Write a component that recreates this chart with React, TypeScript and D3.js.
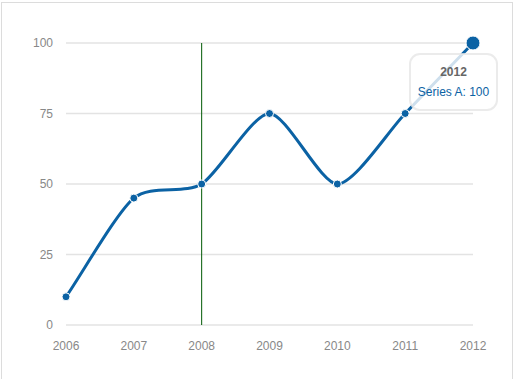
import React from "react";
import * as d3 from "d3";

const years = ["2006", "2007", "2008", "2009", "2010", "2011", "2012"];
const seriesA = [10, 45, 50, 75, 50, 75, 100];
const yTicks = [0, 25, 50, 75, 100];
const eventYears = ["2008"];
const hoverIndex = 6;
const seriesName = "Series A";

const W = 514;
const H = 379;
const left = 66;
const right = 473;
const top = 43;
const bottom = 325;
const lineColor = "#0b62a4";

export default function App() {
  const x = d3.scalePoint<string>().domain(years).range([left, right]);
  const y = d3.scaleLinear().domain([0, 100]).range([bottom, top]);

  const coords = years.map((yr, i) => ({ x: x(yr) as number, y: y(seriesA[i]) }));
  const n = coords.length;
  const grads = coords.map((c, i) => {
    if (i === 0) return (coords[1].y - c.y) / (coords[1].x - c.x);
    if (i === n - 1) return (c.y - coords[i - 1].y) / (c.x - coords[i - 1].x);
    return (coords[i + 1].y - coords[i - 1].y) / (coords[i + 1].x - coords[i - 1].x);
  });
  const p = d3.path();
  coords.forEach((c, i) => {
    if (i === 0) {
      p.moveTo(c.x, c.y);
      return;
    }
    const prev = coords[i - 1];
    const ix = (c.x - prev.x) / 4;
    const x1 = prev.x + ix;
    const y1 = Math.min(bottom, prev.y + ix * grads[i - 1]);
    const x2 = c.x - ix;
    const y2 = Math.min(bottom, c.y - ix * grads[i]);
    p.bezierCurveTo(x1, y1, x2, y2, c.x, c.y);
  });

  const hv = coords[hoverIndex];
  const tipW = 87;
  const tipH = 56;
  const tipX = hv.x - 63;
  const tipY = hv.y + 11;

  return (
    <div style={{ position: "fixed", left: 0, top: 0, width: W, height: H, background: "#fff" }}>
      <svg width={W} height={H} style={{ display: "block" }}>
        <rect x={1.5} y={2.5} width={511} height={H + 10} fill="#fff" stroke="#dcdcdc" strokeWidth={1} />
        {yTicks.map((t) => (
          <g key={t}>
            <line x1={left} x2={right} y1={y(t)} y2={y(t)} stroke="#e3e3e3" strokeWidth={1.5} />
            <text
              x={53}
              y={y(t)}
              dy="0.35em"
              textAnchor="end"
              fill="#888"
              fontFamily="Liberation Sans, Arial, sans-serif"
              fontSize={12}
            >
              {t}
            </text>
          </g>
        ))}
        {years.map((yr) => (
          <text
            key={yr}
            x={x(yr) as number}
            y={346}
            dy="0.35em"
            textAnchor="middle"
            fill="#888"
            fontFamily="Liberation Sans, Arial, sans-serif"
            fontSize={12}
          >
            {yr}
          </text>
        ))}
        {eventYears.map((e) => (
          <line key={e} x1={x(e) as number} x2={x(e) as number} y1={top} y2={bottom} stroke="#005a04" strokeWidth={1} />
        ))}
        <path d={p.toString()} fill="none" stroke={lineColor} strokeWidth={3} />
        {coords.map((c, i) => (
          <circle key={i} cx={c.x} cy={c.y} r={i === hoverIndex ? 7 : 4} fill={lineColor} stroke="#fff" strokeWidth={1} />
        ))}
        <rect
          x={tipX}
          y={tipY}
          width={tipW}
          height={tipH}
          rx={10}
          fill="rgba(255,255,255,0.8)"
          stroke="rgba(230,230,230,0.8)"
          strokeWidth={2}
        />
        <text
          x={tipX + tipW / 2}
          y={tipY + 18}
          dy="0.35em"
          textAnchor="middle"
          fill="#666"
          fontWeight="bold"
          fontFamily="Liberation Sans, Arial, sans-serif"
          fontSize={12}
        >
          {years[hoverIndex]}
        </text>
        <text
          x={tipX + tipW / 2}
          y={tipY + 38}
          dy="0.35em"
          textAnchor="middle"
          fill={lineColor}
          fontFamily="Liberation Sans, Arial, sans-serif"
          fontSize={12}
        >
          {`${seriesName}: ${seriesA[hoverIndex]}`}
        </text>
      </svg>
    </div>
  );
}
